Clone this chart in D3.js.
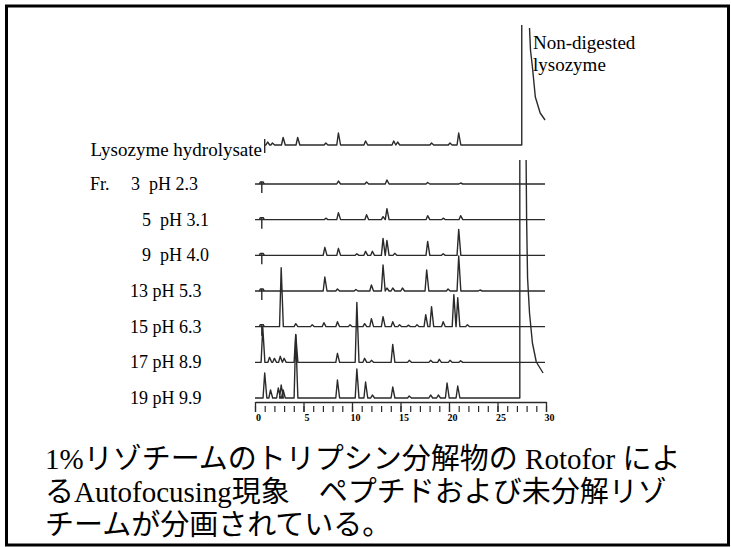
<!DOCTYPE html>
<html>
<head>
<meta charset="utf-8">
<script src="https://cdn.jsdelivr.net/npm/d3@7"></script>
<style>
  body { margin: 0; background: #fff; }
  svg text { font-family: "Liberation Serif", "Times New Roman", "Noto Sans CJK JP", serif; fill: #000; }
</style>
</head>
<body>
<svg id="chart" width="731" height="547"></svg>
<script>
// Rotofor fractions and their pH
var fractions = ["3", "5", "9", "13", "15", "17", "19"];
var phValues = ["2.3", "3.1", "4.0", "5.3", "6.3", "8.9", "9.9"];
var hydrolysateLabel = "Lysozyme hydrolysate";
var intactLabel = ["Non-digested", "lysozyme"];
var timeTicks = [0, 5, 10, 15, 20, 25, 30];
var caption = [
  "1%リゾチームのトリプシン分解物の Rotofor によ",
  "るAutofocusing現象　ペプチドおよび未分解リゾ",
  "チームが分画されている。"
];

// peaks: [retention time (min), peak height]
var hydrolysatePeaks = [[1.3, 3], [1.8, 2], [2.9, 7.5], [4.4, 7.5], [7.3, 2], [8.6, 12], [11.4, 4], [14.3, 4], [14.7, 3], [18.2, 2], [20.1, 2], [21.0, 12]];
var fr3Peaks = [[8.6, 3], [11.5, 2], [13.6, 4], [17.8, 1.5], [21.2, 1]];
var fr5Peaks = [[7.3, 1.5], [8.6, 7], [11.5, 5], [13.2, 3], [13.6, 11], [17.8, 4], [19.4, 1.5], [21.2, 4]];
var fr9Peaks = [[7.2, 8], [8.6, 7], [10.5, 1.5], [11.4, 4], [12.1, 4], [13.2, 17], [13.6, 15], [14.4, 2], [17.8, 14], [19.4, 1.5], [21.0, 26]];
var fr13Peaks = [[7.2, 14], [8.5, 2], [10.4, 1.5], [12.0, 6], [13.2, 26], [13.6, 3], [14.2, 3], [15.2, 3], [17.7, 21], [19.9, 2], [21.0, 35], [23.2, 1]];
var fr15Peaks = [[2.7, 59], [4.2, 3], [5.9, 2], [7.1, 4], [8.5, 5], [9.8, 2], [11.3, 3], [12.0, 8], [13.2, 10], [14.2, 5], [14.9, 2], [15.8, 1.5], [16.7, 2], [17.6, 12], [18.2, 20], [19.4, 5], [20.5, 32], [20.9, 29], [21.9, 2]];
var fr17Peaks = [[0.8, 35], [1.5, 5], [2.0, 4], [2.6, 6], [3.0, 4], [4.2, 28], [8.5, 9], [10.5, 60], [11.3, 4], [12.0, 2], [14.2, 18], [15.9, 2], [18.1, 2], [19.0, 3], [20.1, 2], [21.2, 1.5]];
var fr19Peaks = [[1.0, 25], [1.6, 8], [2.4, 10], [2.7, 13], [2.9, 8], [4.2, 63], [8.5, 18], [10.5, 29], [11.4, 16], [12.1, 3], [14.2, 11], [15.9, 2], [18.1, 3], [18.9, 3], [19.8, 15], [20.9, 12]];
var fractionPeaks = [fr3Peaks, fr5Peaks, fr9Peaks, fr13Peaks, fr15Peaks, fr17Peaks, fr19Peaks];

// non-digested lysozyme (off scale): rising edge time, clipped top, and the tail
var hydrolysateIntactStart = 27.5;
var hydrolysateIntactTop = 120;
var hydrolysateIntactTail = [[28.3, 117], [28.4, 95], [28.6, 78], [28.9, 48], [29.4, 32], [29.9, 25]];
var fractionIntactStart = 27.3;
var fractionIntactTop = 238;
var fractionIntactTail = [[27.95, 238], [28.0, 180], [28.1, 120], [28.3, 85], [28.6, 55], [29.0, 36], [29.7, 25]];

var svg = d3.select("#chart");

var x = d3.scaleLinear().domain([0, 30]).range([255, 546]);
var row = d3.scalePoint().domain(fractions).range([184, 398]);
var amp = d3.scaleLinear().domain([0, 100]).range([0, 100]);
var hydroBase = row(fractions[0]) - 39;
var halfWidth = 0.17;
var labelSize = "18px";

// outer frame
svg.append("rect")
  .attr("x", 6.5).attr("y", 6)
  .attr("width", 722).attr("height", 539)
  .attr("fill", "none").attr("stroke", "#000").attr("stroke-width", 3);

// baseline with a spike for every peak
var tracePoints = function(peaks, t0, t1){
  var pts = [[t0, 0]];
  var _peaks = peaks.slice().sort(function(a, b){ return a[0] - b[0]; });
  _peaks.forEach(function(p){
    pts.push([p[0] - halfWidth, 0]);
    pts.push([p[0], p[1]]);
    pts.push([p[0] + halfWidth * 1.3, 0]);
  });
  pts.push([t1, 0]);
  return pts;
};

var lineAt = function(base){
  return d3.line()
    .x(function(d){ return x(d[0]); })
    .y(function(d){ return base - amp(d[1]); });
};

var traces = svg.append("g")
  .attr("fill", "none")
  .attr("stroke", "#2a2a2a")
  .attr("stroke-width", 1.4)
  .attr("stroke-linejoin", "round");

// hydrolysate row
var hPts = tracePoints(hydrolysatePeaks, 1.0, hydrolysateIntactStart);
hPts.push([hydrolysateIntactStart, hydrolysateIntactTop]);
traces.append("path").attr("d", lineAt(hydroBase)(hPts));
traces.append("path").attr("d", lineAt(hydroBase)(hydrolysateIntactTail));
traces.append("line")
  .attr("x1", x(1.0)).attr("x2", x(1.0))
  .attr("y1", hydroBase - 6).attr("y2", hydroBase + 8);

// fraction rows
fractions.forEach(function(f, i){
  var base = row(f);
  var last = i === fractions.length - 1;
  var pts = tracePoints(fractionPeaks[i], 0, last ? fractionIntactStart : 29.9);
  if (last) pts.push([fractionIntactStart, fractionIntactTop]);
  traces.append("path").attr("d", lineAt(base)(pts));
  if (i < 5){
    // injection mark
    traces.append("path").attr("d", lineAt(base)([[0.45, 0], [0.55, 2], [0.85, 2], [0.95, 0]]));
    traces.append("line")
      .attr("x1", x(0.7)).attr("x2", x(0.7))
      .attr("y1", base - 2).attr("y2", base + 9);
  }
});
traces.append("path").attr("d", lineAt(row(fractions[fractions.length - 1]))(fractionIntactTail));

// time ruler
var axisY = row(fractions[fractions.length - 1]) + 4;
var major = svg.append("g")
  .attr("transform", "translate(0," + axisY + ")")
  .call(d3.axisBottom(x).tickValues(timeTicks).tickSize(10).tickSizeOuter(0).tickPadding(2).tickFormat(d3.format("d")));
major.select(".domain").attr("stroke", "#2a2a2a").attr("stroke-width", 1.3);
major.selectAll(".tick line").attr("stroke", "#2a2a2a").attr("stroke-width", 1.3);
major.selectAll(".tick text")
  .attr("dx", "0.3em")
  .style("font-size", "10px").style("font-weight", "bold");

var minor = svg.append("g")
  .attr("transform", "translate(0," + (axisY + 4) + ")")
  .call(d3.axisBottom(x).tickValues(d3.range(0, 31)).tickSize(6).tickFormat(""));
minor.select(".domain").remove();
minor.selectAll(".tick line").attr("stroke", "#2a2a2a").attr("stroke-width", 1.2);

// row labels
svg.append("text")
  .attr("x", 262).attr("y", hydroBase + 11)
  .attr("text-anchor", "end")
  .style("font-size", "19px")
  .text(hydrolysateLabel);

svg.append("text")
  .attr("x", 90).attr("y", row(fractions[0]) + 6)
  .style("font-size", labelSize)
  .text("Fr.");

svg.selectAll(".frLabel")
  .data(fractions)
  .enter()
  .append("text")
  .attr("class", "frLabel")
  .attr("xml:space", "preserve")
  .attr("x", function(d, i){ return d.length > 1 ? 130 : (i === 0 ? 131 : 142); })
  .attr("y", function(d){ return row(d) + 6; })
  .style("font-size", labelSize)
  .text(function(d, i){ return d + (d.length > 1 ? " pH " : "  pH ") + phValues[i]; });

svg.selectAll(".intact")
  .data(intactLabel)
  .enter()
  .append("text")
  .attr("class", "intact")
  .attr("x", 533)
  .attr("y", function(d, i){ return 49 + i * 22; })
  .style("font-size", "19px")
  .text(function(d){ return d; });

// caption
svg.selectAll(".caption")
  .data(caption)
  .enter()
  .append("text")
  .attr("class", "caption")
  .attr("x", 45)
  .attr("y", function(d, i){ return 469 + i * 33; })
  .style("font-size", "29px")
  .text(function(d){ return d; });
</script>
</body>
</html>
